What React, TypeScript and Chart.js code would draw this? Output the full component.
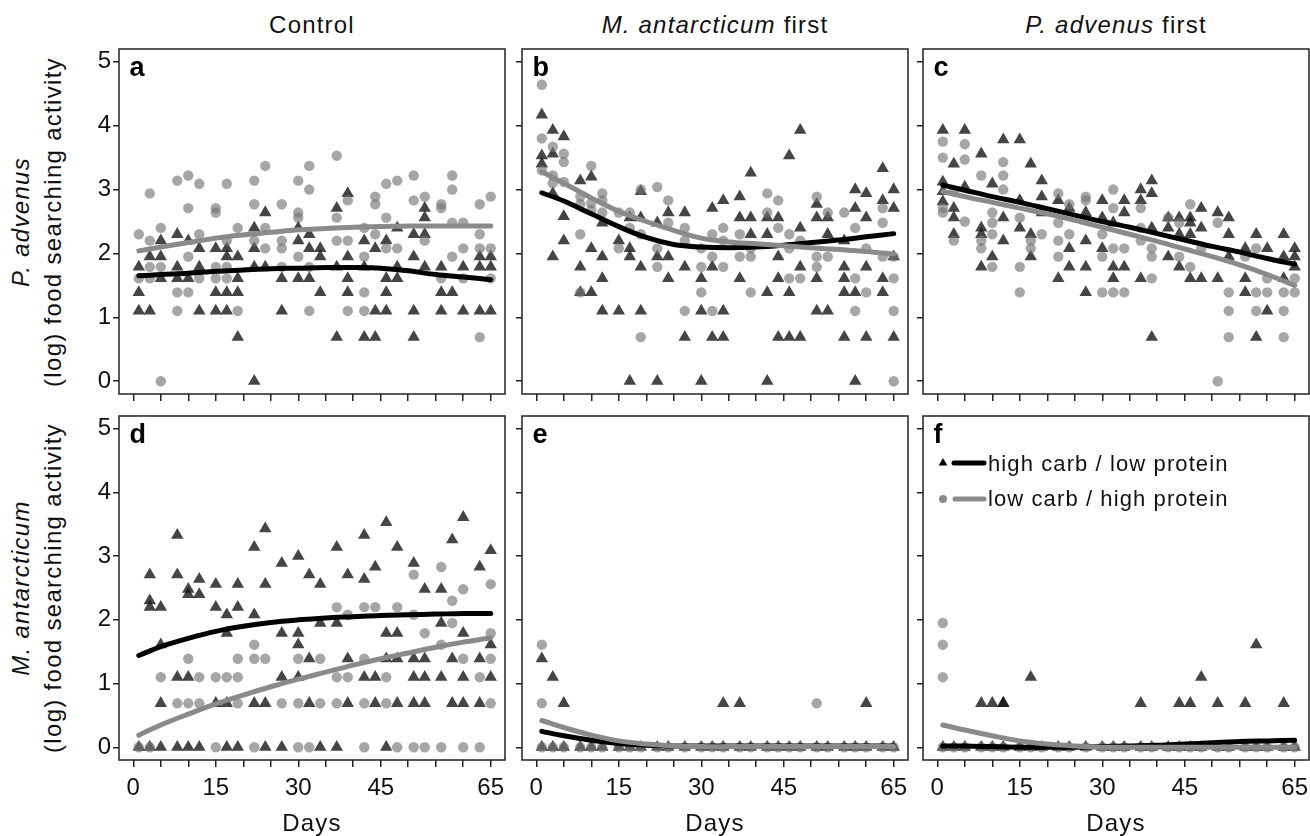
import React, { useEffect, useRef } from 'react';
import { Chart, registerables } from 'chart.js';

Chart.register(...registerables);

const FONT = '"Liberation Sans", Arial, Helvetica, sans-serif';
Chart.defaults.font.family = FONT;

// ---------- data ----------
const X_TICK_LABELS = [0, 15, 30, 45, 65];
const Y_TICK_LABELS = [0, 1, 2, 3, 4, 5];
const CURVE_DAYS = [1, 5, 10, 15, 20, 25, 30, 35, 40, 45, 50, 55, 60, 65];
const LEGEND_LABELS = ['high carb / low protein', 'low carb / high protein'];

// panel a: P. advenus, Control
const aHighCarb = [[1,1.79],[1,1.39],[1,1.1],[3,1.95],[3,1.1],[5,2.2],[5,1.95],[5,1.61],[8,2.3],[8,1.79],[8,1.61],[10,2.2],[10,1.61],[12,2.08],[12,1.79],[12,1.1],[15,2.08],[15,1.39],[15,1.1],[17,2.08],[17,1.95],[17,1.39],[17,1.1],[19,1.95],[19,1.61],[19,1.39],[19,0.69],[22,2.4],[22,2.08],[22,1.79],[22,0],[24,2.64],[24,1.79],[27,1.61],[27,1.1],[30,2.4],[30,2.2],[30,1.61],[32,2.3],[32,2.08],[32,1.61],[34,2.08],[34,1.95],[34,1.39],[37,2.71],[37,1.79],[37,0.69],[39,2.94],[39,1.95],[39,1.61],[39,1.39],[42,2.2],[42,1.79],[42,0.69],[44,2.08],[44,1.1],[44,0.69],[46,2.2],[46,1.61],[46,1.39],[46,1.1],[48,2.4],[48,1.79],[48,1.61],[51,2.3],[51,1.95],[51,1.1],[51,0.69],[53,2.71],[53,2.56],[53,2.3],[53,1.79],[56,1.79],[56,1.39],[56,1.1],[58,1.39],[60,1.79],[60,1.1],[63,1.95],[63,1.79],[63,1.1],[65,1.95],[65,1.79],[65,1.1]];
const aLowCarb = [[1,2.3],[1,1.61],[3,2.94],[3,2.2],[3,1.79],[3,1.61],[5,2.4],[5,1.79],[5,0],[8,3.14],[8,1.39],[8,1.1],[10,3.22],[10,2.71],[10,1.95],[10,1.39],[12,3.09],[12,2.3],[12,1.61],[15,2.71],[15,2.64],[15,1.79],[15,1.61],[17,3.09],[17,2.2],[17,1.79],[17,1.61],[19,2.4],[19,1.1],[22,3.14],[22,2.77],[22,2.2],[24,3.37],[24,2.4],[24,2.08],[27,2.77],[27,2.2],[27,2.08],[27,1.79],[30,3.14],[30,2.64],[30,2.56],[30,1.95],[32,3.37],[32,3.0],[32,1.79],[32,1.1],[37,3.53],[37,2.56],[37,2.2],[39,2.83],[39,2.2],[39,1.1],[42,2.4],[42,1.95],[42,1.39],[42,1.1],[44,2.89],[44,2.77],[44,2.3],[46,3.09],[46,2.56],[46,2.08],[48,3.14],[48,2.08],[51,3.22],[51,2.83],[53,2.89],[53,2.2],[56,2.77],[56,2.71],[56,1.61],[58,3.22],[58,3.0],[58,2.48],[58,1.95],[60,2.48],[60,2.08],[60,1.61],[63,2.77],[63,2.3],[63,2.08],[63,0.69],[65,2.89],[65,2.08],[65,1.61]];
const aHighCarbCurve = [1.65,1.67,1.69,1.72,1.74,1.76,1.77,1.78,1.78,1.77,1.73,1.67,1.63,1.59];
const aLowCarbCurve = [2.04,2.1,2.17,2.24,2.29,2.33,2.37,2.39,2.41,2.42,2.43,2.43,2.43,2.43];

// panel b: P. advenus, M. antarcticum first
const bHighCarb = [[1,4.17],[1,3.53],[1,3.4],[3,3.93],[3,3.56],[3,2.94],[3,1.95],[5,3.83],[5,2.58],[5,2.2],[8,3.14],[8,1.79],[8,1.39],[10,3.2],[10,2.08],[10,1.39],[12,2.48],[12,1.95],[12,1.61],[12,1.1],[15,2.2],[15,1.1],[17,2.56],[17,2.08],[17,1.95],[17,0],[19,2.97],[19,2.56],[19,1.79],[19,1.1],[22,2.48],[22,1.95],[22,0],[24,2.64],[24,1.95],[24,1.61],[27,2.64],[27,1.79],[27,0.69],[30,1.61],[30,1.1],[30,0],[32,2.71],[32,1.79],[32,0.69],[34,2.83],[34,1.1],[34,0.69],[37,2.89],[37,2.56],[37,1.61],[39,3.26],[39,2.56],[39,2.3],[42,2.56],[42,2.3],[42,1.39],[42,0],[44,2.56],[44,1.95],[44,1.61],[44,0.69],[46,3.53],[46,1.39],[46,0.69],[48,3.93],[48,2.4],[48,1.79],[48,0.69],[51,2.77],[51,2.56],[51,1.61],[51,1.1],[53,2.56],[53,2.3],[53,1.1],[56,2.2],[56,1.79],[56,1.61],[56,1.39],[56,0.69],[58,3.0],[58,2.71],[58,1.39],[58,0],[60,2.94],[60,2.56],[60,1.79],[60,0.69],[63,3.33],[63,2.83],[63,1.61],[63,1.39],[65,3.0],[65,2.71],[65,1.95],[65,0.69]];
const bLowCarb = [[1,4.64],[1,3.8],[1,3.3],[3,3.67],[3,3.22],[3,3.1],[5,3.56],[5,3.43],[5,3.12],[8,2.89],[8,2.77],[8,2.3],[8,1.39],[10,3.37],[10,2.79],[10,2.68],[12,2.94],[12,2.83],[12,2.64],[15,2.64],[15,2.08],[17,2.64],[17,2.4],[19,3.0],[19,2.3],[19,0.69],[22,3.04],[22,2.08],[22,1.79],[24,2.83],[24,2.48],[27,2.4],[27,2.2],[27,1.1],[30,2.08],[30,1.79],[30,1.39],[32,2.3],[32,1.95],[32,1.1],[34,2.4],[34,2.2],[34,1.79],[37,2.3],[37,1.95],[39,2.08],[39,1.95],[39,1.39],[42,2.94],[42,2.64],[44,2.83],[44,2.4],[46,2.3],[46,2.08],[46,1.61],[48,2.2],[48,1.61],[51,2.89],[51,1.95],[51,1.79],[53,2.64],[53,1.95],[56,2.64],[58,2.4],[58,1.61],[58,1.1],[60,2.08],[60,1.39],[63,2.71],[63,2.48],[63,1.95],[65,1.95],[65,1.61],[65,1.1],[65,0]];
const bHighCarbCurve = [2.95,2.82,2.62,2.42,2.25,2.14,2.1,2.09,2.1,2.13,2.17,2.21,2.26,2.31];
const bLowCarbCurve = [3.28,3.1,2.87,2.66,2.5,2.36,2.24,2.18,2.15,2.12,2.09,2.06,2.03,1.99];

// panel c: P. advenus, P. advenus first
const cHighCarb = [[1,3.93],[1,3.12],[1,2.97],[1,2.81],[3,3.4],[3,2.71],[3,2.56],[3,2.3],[5,3.93],[5,3.04],[8,3.56],[8,2.4],[8,2.3],[8,1.79],[10,3.09],[10,1.95],[12,3.78],[12,2.56],[12,2.2],[15,3.78],[15,2.83],[15,2.4],[17,3.4],[17,2.3],[17,1.95],[19,3.14],[19,2.89],[19,2.64],[22,2.83],[22,1.61],[24,2.71],[24,2.08],[24,1.79],[27,2.64],[27,2.2],[27,1.79],[27,1.39],[30,2.83],[30,2.56],[30,2.08],[32,2.48],[32,1.79],[32,1.61],[34,2.83],[34,2.64],[34,1.79],[37,3.0],[37,2.83],[37,1.61],[39,3.14],[39,2.94],[39,2.4],[39,0.69],[42,2.56],[42,2.4],[42,1.95],[44,2.56],[44,2.3],[44,1.79],[46,2.56],[46,2.48],[46,2.3],[46,1.61],[48,2.71],[48,2.4],[48,1.61],[51,2.64],[51,1.61],[53,2.56],[53,2.3],[53,1.95],[56,2.08],[56,1.61],[56,1.39],[58,2.3],[58,0.69],[60,2.08],[60,1.1],[63,2.3],[63,1.95],[63,1.61],[65,2.08],[65,1.95],[65,1.79]];
const cLowCarb = [[1,3.75],[1,3.5],[1,2.71],[1,2.64],[3,2.97],[3,2.2],[5,3.71],[5,3.47],[5,2.5],[8,3.22],[8,2.2],[8,2.08],[10,2.64],[10,2.48],[10,2.3],[10,1.79],[12,3.43],[12,3.22],[12,3.0],[15,2.56],[15,1.79],[15,1.39],[17,2.2],[17,2.08],[19,2.3],[22,2.94],[22,2.48],[22,2.2],[22,1.95],[24,2.77],[24,2.3],[27,2.89],[27,2.83],[30,2.3],[30,1.95],[30,1.39],[32,3.0],[32,2.71],[32,2.08],[32,1.39],[34,2.08],[34,1.39],[37,2.71],[37,2.4],[37,2.2],[39,2.08],[39,1.95],[39,1.61],[42,2.56],[44,2.48],[44,1.95],[46,2.77],[46,1.79],[48,2.08],[51,2.48],[51,0],[53,1.39],[53,1.1],[53,0.69],[56,1.95],[58,2.08],[58,1.39],[58,1.1],[60,1.61],[60,1.39],[63,1.39],[63,1.1],[63,0.69],[65,1.61],[65,1.39]];
const cHighCarbCurve = [3.07,2.99,2.89,2.8,2.7,2.6,2.5,2.41,2.31,2.21,2.11,2.02,1.92,1.83];
const cLowCarbCurve = [2.97,2.89,2.8,2.71,2.62,2.52,2.41,2.3,2.19,2.07,1.95,1.82,1.67,1.5];

// panel d: M. antarcticum, Control
const dHighCarb = [[1,0],[3,2.71],[3,2.3],[3,2.2],[3,0],[5,2.2],[5,1.61],[5,0.69],[5,0],[8,3.33],[8,2.71],[8,1.1],[8,0],[10,2.48],[10,2.4],[10,1.1],[10,0],[12,2.64],[12,2.4],[12,0],[15,2.56],[15,2.2],[15,0.69],[17,2.08],[17,1.79],[17,0.69],[17,0],[19,2.56],[19,2.2],[19,0],[22,3.14],[22,2.08],[22,0.69],[24,3.43],[24,2.56],[24,0.69],[24,0],[27,2.89],[27,1.79],[27,1.1],[27,0],[30,3.0],[30,1.79],[30,1.61],[30,1.1],[32,2.71],[32,1.39],[32,0.69],[34,2.56],[34,1.95],[34,0],[37,3.14],[37,1.95],[37,0],[39,2.71],[39,1.39],[39,0.69],[42,3.33],[42,2.64],[42,1.1],[44,2.83],[44,1.1],[44,0.69],[46,3.53],[46,1.79],[46,1.39],[46,0],[48,3.14],[48,1.79],[48,1.39],[48,0.69],[51,2.89],[51,1.39],[51,1.1],[51,0.69],[53,2.48],[53,1.39],[53,1.1],[53,0.69],[56,2.48],[56,1.95],[56,1.1],[58,3.26],[58,1.39],[58,0.69],[60,3.61],[60,1.79],[60,1.1],[60,0.69],[63,2.83],[63,1.39],[63,0.69],[65,3.09],[65,1.61],[65,1.1]];
const dLowCarb = [[1,0],[3,0],[5,1.1],[8,0.69],[10,1.39],[10,0.69],[12,1.1],[12,0.69],[15,1.1],[15,0],[17,1.1],[19,1.39],[19,1.1],[19,0.69],[22,1.61],[22,1.39],[22,0],[24,1.39],[27,0.69],[30,1.39],[30,0.69],[30,0],[32,0],[34,1.39],[34,0.69],[37,2.2],[37,1.1],[37,0.69],[39,2.08],[39,1.1],[42,2.2],[42,1.39],[42,0.69],[42,0],[44,2.2],[46,1.1],[46,0.69],[48,2.2],[48,0],[51,2.71],[51,2.08],[51,0],[53,1.79],[53,0],[56,2.83],[56,1.61],[56,0],[58,2.3],[58,1.95],[60,2.48],[60,1.39],[60,0],[63,1.1],[63,0],[65,2.56],[65,1.79],[65,1.39],[65,0.69]];
const dHighCarbCurve = [1.44,1.58,1.71,1.82,1.9,1.96,2.0,2.03,2.05,2.07,2.08,2.09,2.1,2.1];
const dLowCarbCurve = [0.19,0.35,0.52,0.68,0.82,0.95,1.07,1.18,1.29,1.39,1.48,1.57,1.65,1.72];

// panel e: M. antarcticum, M. antarcticum first
const eHighCarb = [[1,1.39],[1,0],[3,1.1],[3,0],[5,0.69],[5,0],[8,0],[10,0],[12,0],[15,0],[17,0],[19,0],[22,0],[24,0],[27,0],[30,0],[32,0],[34,0.69],[34,0],[37,0.69],[37,0],[39,0],[42,0],[44,0],[46,0],[48,0],[51,0],[53,0],[56,0],[58,0],[60,0.69],[60,0],[63,0],[65,0]];
const eLowCarb = [[1,1.61],[1,0.69],[1,0],[3,0],[5,0],[8,0],[10,0],[12,0],[15,0],[17,0],[19,0],[22,0],[24,0],[27,0],[30,0],[32,0],[34,0],[37,0],[39,0],[42,0],[44,0],[46,0],[48,0],[51,0.69],[51,0],[53,0],[56,0],[58,0],[60,0],[63,0],[65,0]];
const eHighCarbCurve = [0.25,0.18,0.11,0.06,0.03,0.02,0.02,0.02,0.02,0.02,0.02,0.02,0.02,0.02];
const eLowCarbCurve = [0.42,0.31,0.19,0.1,0.05,0.02,0.01,0.01,0.01,0.01,0.01,0.01,0.01,0.01];

// panel f: M. antarcticum, P. advenus first
const fHighCarb = [[1,0],[3,0],[5,0],[8,0.69],[8,0],[10,0.69],[10,0],[12,0.69],[12,0.69],[12,0],[15,0],[17,1.1],[17,0],[19,0],[22,0],[24,0],[27,0],[30,0],[32,0],[34,0],[37,0.69],[37,0],[39,0],[42,0],[44,0.69],[44,0],[46,0.69],[46,0],[48,1.1],[48,0],[51,0.69],[51,0],[53,0],[56,0.69],[56,0],[58,1.61],[58,0],[60,0],[63,0.69],[63,0],[65,0]];
const fLowCarb = [[1,1.95],[1,1.61],[1,1.1],[1,0],[3,0],[5,0],[8,0],[10,0],[12,0],[15,0],[17,0],[19,0],[22,0],[24,0],[27,0],[30,0],[32,0],[34,0],[37,0],[39,0],[42,0],[44,0],[46,0],[48,0],[51,0],[53,0],[56,0],[58,0],[60,0],[63,0],[65,0]];
const fHighCarbCurve = [0.02,0.02,0.01,0.0,0.0,0.0,0.01,0.02,0.03,0.05,0.07,0.09,0.1,0.11];
const fLowCarbCurve = [0.35,0.27,0.18,0.1,0.05,0.02,0.0,0.0,0.0,0.0,0.0,0.0,0.0,0.0];

// ---------- layout / style ----------
const COL_LEFT = [119, 522, 923];
const COL_CENTER = [312, 715, 1116];
const ROW_TOP = [49, 416];
const BOX_W = 386;
const BOX_H = [345, 344];
const PAD = { l: 10, t: 20, r: 30, b: 10 };
const YAXIS_W = 60;
const XAXIS_H = [12, 46];
const X_MIN = -2.6, X_MAX = 67.6, Y_MIN = -0.2, Y_MAX = 5.2;

const TRI_COLOR = 'rgba(22,22,22,0.8)';
const CIRC_COLOR = 'rgba(115,115,115,0.64)';
const HC_LINE = '#000000';
const LC_LINE = '#8a8a8a';

type Pts = number[][];
interface PanelDef {
  letter: string; row: number; col: number;
  hc: Pts; lc: Pts; hcCurve: number[]; lcCurve: number[]; legend?: boolean;
}

const PANELS: PanelDef[] = [
  { letter: 'a', row: 0, col: 0, hc: aHighCarb, lc: aLowCarb, hcCurve: aHighCarbCurve, lcCurve: aLowCarbCurve },
  { letter: 'b', row: 0, col: 1, hc: bHighCarb, lc: bLowCarb, hcCurve: bHighCarbCurve, lcCurve: bLowCarbCurve },
  { letter: 'c', row: 0, col: 2, hc: cHighCarb, lc: cLowCarb, hcCurve: cHighCarbCurve, lcCurve: cLowCarbCurve },
  { letter: 'd', row: 1, col: 0, hc: dHighCarb, lc: dLowCarb, hcCurve: dHighCarbCurve, lcCurve: dLowCarbCurve },
  { letter: 'e', row: 1, col: 1, hc: eHighCarb, lc: eLowCarb, hcCurve: eHighCarbCurve, lcCurve: eLowCarbCurve },
  { letter: 'f', row: 1, col: 2, hc: fHighCarb, lc: fLowCarb, hcCurve: fHighCarbCurve, lcCurve: fLowCarbCurve, legend: true },
];

const framePlugin = {
  id: 'frame',
  afterDraw(chart: any, _args: any, opts: any) {
    const { ctx, chartArea } = chart;
    const { left, top, right, bottom } = chartArea;
    ctx.save();
    ctx.strokeStyle = '#222';
    ctx.lineWidth = 1.5;
    ctx.strokeRect(left, top, right - left, bottom - top);
    ctx.fillStyle = '#000';
    ctx.textAlign = 'left';
    ctx.textBaseline = 'alphabetic';
    ctx.font = `bold 27px ${FONT}`;
    ctx.fillText(opts.letter, left + 10.5, top + 26.5);
    if (opts.legend) {
      const tx = left + 20, ty1 = top + 47, ty2 = top + 83;
      const r = 5;
      ctx.fillStyle = '#000';
      ctx.beginPath();
      ctx.moveTo(tx, ty1 - r);
      ctx.lineTo(tx + r * 0.866, ty1 + r / 2);
      ctx.lineTo(tx - r * 0.866, ty1 + r / 2);
      ctx.closePath();
      ctx.fill();
      ctx.lineCap = 'round';
      ctx.lineWidth = 5;
      ctx.strokeStyle = HC_LINE;
      ctx.beginPath();
      ctx.moveTo(left + 31, ty1);
      ctx.lineTo(left + 61, ty1);
      ctx.stroke();
      ctx.fillStyle = '#8a8a8a';
      ctx.beginPath();
      ctx.arc(tx, ty2, 4, 0, Math.PI * 2);
      ctx.fill();
      ctx.strokeStyle = LC_LINE;
      ctx.beginPath();
      ctx.moveTo(left + 32, ty2);
      ctx.lineTo(left + 61, ty2);
      ctx.stroke();
      ctx.fillStyle = '#111';
      ctx.font = `22px ${FONT}`;
      try { (ctx as any).letterSpacing = '1.1px'; } catch (e) { /* ignore */ }
      ctx.fillText(LEGEND_LABELS[0], left + 65, top + 55);
      ctx.fillText(LEGEND_LABELS[1], left + 65, top + 90);
    }
    ctx.restore();
  },
};

function toXY(arr: Pts) {
  return arr.map(([x, y]) => ({ x, y }));
}
function curveXY(vals: number[]) {
  return CURVE_DAYS.map((d, i) => ({ x: d, y: vals[i] }));
}

function buildConfig(p: PanelDef): any {
  const { row, col } = p;
  return {
    type: 'scatter',
    data: {
      datasets: [
        { label: 'lc curve', data: curveXY(p.lcCurve), showLine: true, borderColor: LC_LINE, borderWidth: 5, pointRadius: 0, tension: 0.35, borderCapStyle: 'round', order: 0 },
        { label: 'hc curve', data: curveXY(p.hcCurve), showLine: true, borderColor: HC_LINE, borderWidth: 5, pointRadius: 0, tension: 0.35, borderCapStyle: 'round', order: 1 },
        { label: 'lc points', data: toXY(p.lc), pointStyle: 'circle', pointRadius: 5.2, backgroundColor: CIRC_COLOR, borderWidth: 0, pointBorderWidth: 0, order: 2 },
        { label: 'hc points', data: toXY(p.hc), pointStyle: 'triangle', pointRadius: 7.2, backgroundColor: TRI_COLOR, borderWidth: 0, pointBorderWidth: 0, order: 3 },
      ],
    },
    options: {
      animation: false,
      responsive: true,
      maintainAspectRatio: false,
      events: [],
      layout: { padding: { left: PAD.l, top: PAD.t, right: PAD.r, bottom: PAD.b } },
      plugins: {
        legend: { display: false },
        tooltip: { enabled: false },
        title: { display: false },
        frame: { letter: p.letter, legend: !!p.legend },
      },
      scales: {
        x: {
          type: 'linear',
          min: X_MIN,
          max: X_MAX,
          ticks: {
            stepSize: 5,
            includeBounds: false,
            autoSkip: false,
            maxRotation: 0,
            minRotation: 0,
            display: row === 1,
            padding: 7,
            color: '#111',
            font: { size: 24, family: FONT, lineHeight: 1.2 },
            callback: (v: number) => (X_TICK_LABELS.includes(v) ? String(v) : ''),
          },
          grid: { display: true, drawOnChartArea: false, drawTicks: true, tickLength: 7, color: '#222', lineWidth: 1.5 },
          border: { display: false },
          afterFit: (s: any) => { s.height = XAXIS_H[row]; },
        },
        y: {
          type: 'linear',
          min: Y_MIN,
          max: Y_MAX,
          ticks: {
            stepSize: 1,
            includeBounds: false,
            display: col === 0,
            padding: 2,
            color: '#111',
            font: { size: 24, family: FONT, lineHeight: 1.2 },
            callback: (v: number) => (Y_TICK_LABELS.includes(v) ? String(v) : ''),
          },
          grid: { display: true, drawOnChartArea: false, drawTicks: true, tickLength: 6, color: '#222', lineWidth: 1.5 },
          border: { display: false },
          afterFit: (s: any) => { s.width = YAXIS_W; },
        },
      },
    },
    plugins: [framePlugin],
  };
}

function Panel({ p }: { p: PanelDef }) {
  const ref = useRef<HTMLCanvasElement>(null);
  useEffect(() => {
    if (!ref.current) return;
    const chart = new Chart(ref.current, buildConfig(p));
    return () => chart.destroy();
  }, [p]);
  const w = PAD.l + YAXIS_W + BOX_W + PAD.r;
  const h = PAD.t + BOX_H[p.row] + XAXIS_H[p.row] + PAD.b;
  return (
    <div style={{ position: 'absolute', left: COL_LEFT[p.col] - PAD.l - YAXIS_W, top: ROW_TOP[p.row] - PAD.t, width: w, height: h }}>
      <canvas ref={ref} />
    </div>
  );
}

const textBase: React.CSSProperties = {
  position: 'absolute',
  fontFamily: FONT,
  fontSize: 24,
  lineHeight: '24px',
  letterSpacing: '1.2px',
  color: '#111',
  textAlign: 'center',
  whiteSpace: 'nowrap',
};

function ColTitle({ cx, children }: { cx: number; children: React.ReactNode }) {
  return <div style={{ ...textBase, left: cx - 200, width: 400, top: 12.7 }}>{children}</div>;
}

function YTitle({ cy, species }: { cy: number; species: string }) {
  const cx = 37.2;
  return (
    <div
      style={{
        ...textBase,
        left: cx - 210,
        top: cy - 32,
        width: 420,
        height: 64,
        lineHeight: '32px',
        letterSpacing: '1.3px',
        transform: 'rotate(-90deg)',
        transformOrigin: '50% 50%',
      }}
    >
      <div style={{ fontStyle: 'italic' }}>{species}</div>
      <div>(log) food searching activity</div>
    </div>
  );
}

export default function App() {
  return (
    <div style={{ position: 'fixed', left: 0, top: 0, width: 1310, height: 836, overflow: 'hidden', background: '#ffffff' }}>
      <ColTitle cx={COL_CENTER[0]}>Control</ColTitle>
      <ColTitle cx={COL_CENTER[1]}><span style={{ fontStyle: 'italic' }}>M. antarcticum</span> first</ColTitle>
      <ColTitle cx={COL_CENTER[2]}><span style={{ fontStyle: 'italic' }}>P. advenus</span> first</ColTitle>
      <YTitle cy={ROW_TOP[0] + BOX_H[0] / 2} species="P. advenus" />
      <YTitle cy={ROW_TOP[1] + BOX_H[1] / 2} species="M. antarcticum" />
      {PANELS.map((p) => <Panel key={p.letter} p={p} />)}
      {COL_CENTER.map((cx, i) => (
        <div key={i} style={{ ...textBase, left: cx - 100, width: 200, top: 810.7 }}>Days</div>
      ))}
    </div>
  );
}
